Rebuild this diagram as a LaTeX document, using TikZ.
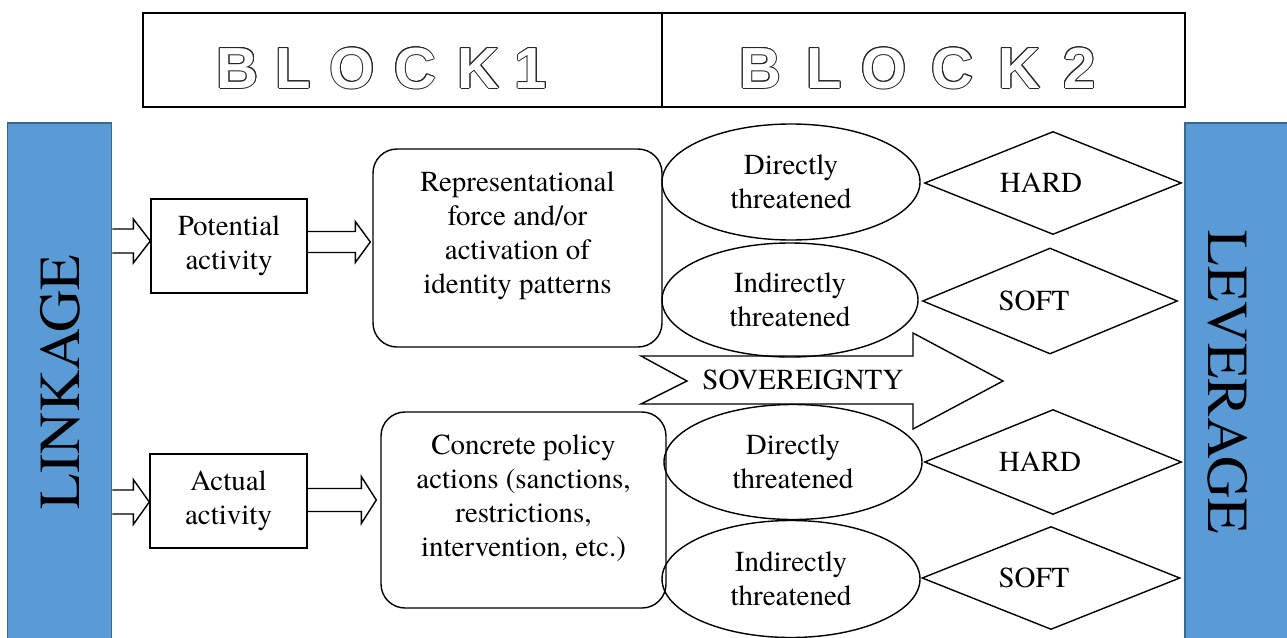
\documentclass[tikz,border=0pt]{standalone}
\usepackage{fontspec}
\setmainfont{texgyretermes}[Extension=.otf, UprightFont=*-regular, BoldFont=*-bold, ItalicFont=*-italic, BoldItalicFont=*-bolditalic]
\newfontfamily\hdrfont{Liberation Sans}
\usetikzlibrary{shapes.geometric,calc}
\definecolor{barblue}{HTML}{5B9BD5}
\definecolor{barline}{HTML}{3A6890}
\newcommand\fatarrow[5]{%
  \draw[fat] let \p1=(#1), \p2=(#2) in
    (\x1,\y1+#3) -- (\x2-#5,\y1+#3) -- (\x2-#5,\y1+#4) -- (\x2,\y1)
    -- (\x2-#5,\y1-#4) -- (\x2-#5,\y1-#3) -- (\x1,\y1-#3);}
\newcommand\outlined[3]{%
  \foreach \a in {0,30,...,330}
    \node[hdr,text=black!85] at ($(#1,88)+(\a:1.0)$) {#2};
  \node[hdr,text=white] (#3) at (#1,88) {#2};}
\begin{document}
\begin{tikzpicture}[x=1pt,y=-1pt,line width=1.4pt,
  txt/.style={font=\rmfamily\fontsize{29}{34}\selectfont, align=center},
  bar/.style={draw=barline, fill=barblue, line width=1.6pt, inner sep=0},
  box/.style={draw, inner sep=0},
  rbox/.style={draw, rounded corners=24pt, inner sep=0},
  oval/.style={draw, ellipse, inner sep=0, txt},
  dia/.style={draw, diamond, inner sep=0},
  fat/.style={line width=1.4pt, line join=miter},
  hdr/.style={font=\hdrfont\bfseries\fontsize{58}{58}\selectfont, anchor=base, inner sep=0},
  big/.style={font=\rmfamily\fontsize{58}{58}\selectfont}]
\useasboundingbox (0,0) rectangle (1287,637);

% header
\node[draw, line width=1.6pt, minimum width=519pt, minimum height=94pt, inner sep=0] (blk1) at (402.5,60) {};
\node[draw, line width=1.6pt, minimum width=523pt, minimum height=94pt, inner sep=0] (blk2) at (923.5,60) {};
\outlined{237.5}{B}{h1b}
\outlined{293.5}{L}{h1l}
\outlined{352.5}{O}{h1o}
\outlined{415}{C}{h1c}
\outlined{478.5}{K}{h1k}
\outlined{531}{1}{h1n}
\outlined{760}{B}{h2b}
\outlined{824}{L}{h2l}
\outlined{884}{O}{h2o}
\outlined{952.5}{C}{h2c}
\outlined{1019.5}{K}{h2k}
\outlined{1079.5}{2}{h2n}

% side bars
\node[bar, minimum width=104pt, minimum height=518pt,
  label={[xshift=0.5pt,rotate=90,big]center:LINKAGE}] (link) at (59.5,382) {};
\node[bar, minimum width=105pt, minimum height=518pt,
  label={[xshift=-9.5pt,rotate=-90,big]center:LEVERAGE}] (lev) at (1237.5,382) {};

% boxes
\node[box, txt, minimum width=156pt, minimum height=94pt] (pot) at (229,246) {Potential\\activity};
\node[box, txt, minimum width=157pt, minimum height=94pt] (act) at (228.5,501) {Actual\\activity};
\node[rbox, minimum width=289pt, minimum height=198pt,
  label={[txt,yshift=12pt]center:Representational\\force and/or\\activation of\\identity patterns}] (rep) at (517.5,248) {};
\node[rbox, minimum width=285pt, minimum height=196pt,
  label={[txt,yshift=11.5pt]center:Concrete policy\\actions (sanctions,\\restrictions,\\intervention, etc.)}] (con) at (523.5,510) {};

% ellipses
\node[oval, minimum width=258pt, minimum height=116pt] (e1) at (791,182) {Directly\\threatened};
\node[oval, minimum width=256pt, minimum height=114pt] (e2) at (790,300) {Indirectly\\threatened};
\node[oval, minimum width=258pt, minimum height=115pt] (e3) at (793,462) {Directly\\threatened};
\node[oval, minimum width=258pt, minimum height=117pt] (e4) at (791,579) {Indirectly\\threatened};

% diamonds
\node[dia, minimum width=257pt, minimum height=103pt, label={[txt,xshift=-12pt]center:HARD}] (d1) at (1053,183) {};
\node[dia, minimum width=255pt, minimum height=106pt, label={[txt,xshift=-16pt]center:SOFT}] (d2) at (1050,301) {};
\node[dia, minimum width=257pt, minimum height=105pt, label={[txt,xshift=-13pt]center:HARD}] (d3) at (1053,462) {};
\node[dia, minimum width=258pt, minimum height=103pt, label={[txt,xshift=-17pt]center:SOFT}] (d4) at (1051,578) {};

% sovereignty arrow
\draw[fat] (641,356) -- (913,356) -- (913,333) -- (1003,381) -- (913,429)
  -- (913,404) -- (641,404) -- (687,381) -- cycle;
\node[txt] (sov) at (803,380) {SOVEREIGNTY};

% block arrows
\path (pot.west) ++(0,-5) coordinate (a1e);
\fatarrow{a1e -| link.east}{a1e}{12}{22}{17}
\path (pot.east) ++(0,-4) coordinate (a2s);
\path (a2s -| rep.west) ++(-2,0) coordinate (a2e);
\fatarrow{a2s}{a2e}{10.5}{20.5}{15}
\path (act.west) ++(0,1) coordinate (a3e);
\fatarrow{a3e -| link.east}{a3e}{12}{22.5}{16}
\path (act.east) ++(0,-1) coordinate (a4s);
\path (a4s -| con.west) ++(-4,0) coordinate (a4e);
\fatarrow{a4s}{a4e}{11.5}{23.5}{15}
\end{tikzpicture}
\end{document}
